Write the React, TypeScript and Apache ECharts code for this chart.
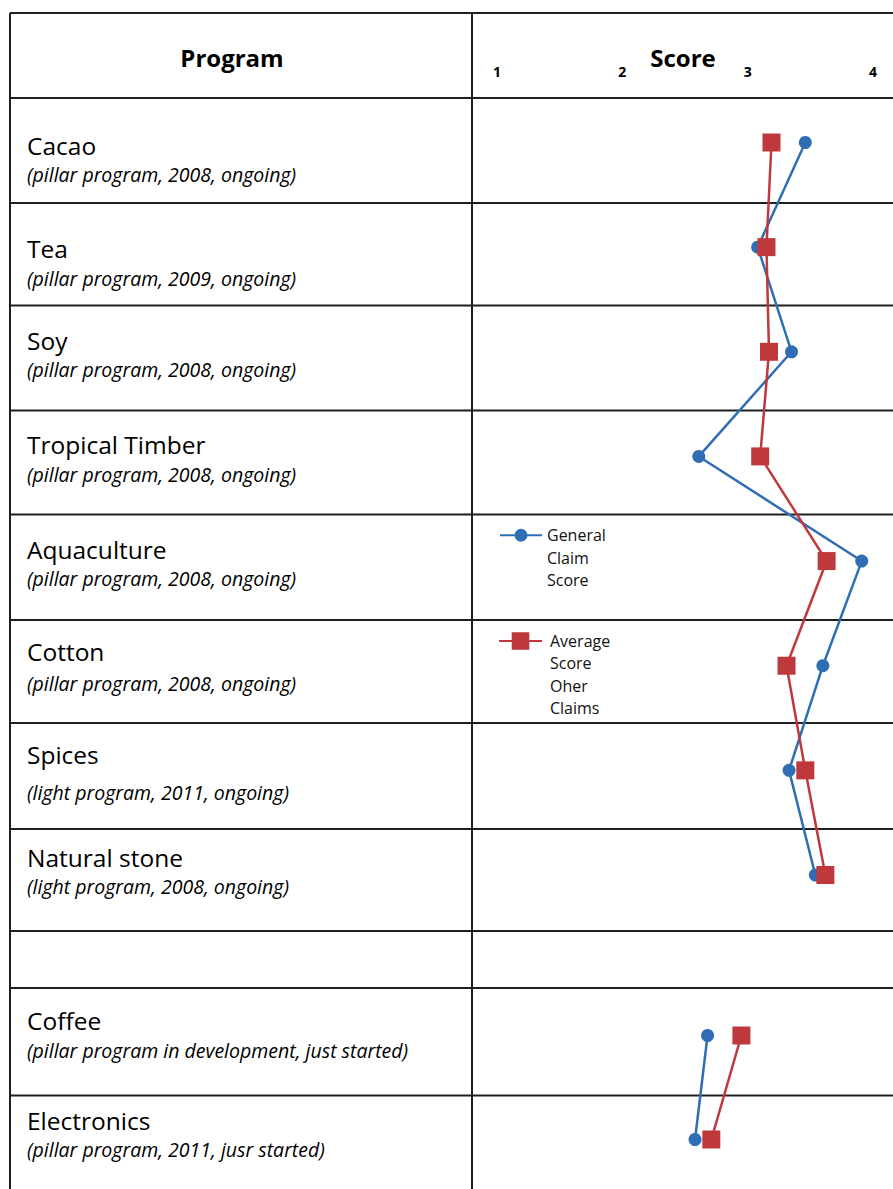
import React, { useEffect, useRef } from "react";
import * as echarts from "echarts";

// ---- data ----
const programs = [
  "Cacao",
  "Tea",
  "Soy",
  "Tropical Timber",
  "Aquaculture",
  "Cotton",
  "Spices",
  "Natural stone",
  "Coffee",
  "Electronics",
];
const programDetails = [
  "(pillar program, 2008, ongoing)",
  "(pillar program, 2009, ongoing)",
  "(pillar program, 2008, ongoing)",
  "(pillar program, 2008, ongoing)",
  "(pillar program, 2008, ongoing)",
  "(pillar program, 2008, ongoing)",
  "(light program, 2011, ongoing)",
  "(light program, 2008, ongoing)",
  "(pillar program in development, just started)",
  "(pillar program, 2011, jusr started)",
];
const generalClaimScore = [3.46, 3.08, 3.35, 2.61, 3.91, 3.6, 3.33, 3.54, 2.68, 2.58];
const averageScoreOtherClaims = [3.19, 3.15, 3.17, 3.1, 3.63, 3.31, 3.46, 3.62, 2.95, 2.71];
const scoreMin = 1;
const scoreMax = 4;
const ongoingCount = 8; // first block of programs; the rest follow after an empty row
const seriesNames = ["General Claim Score", "Average Score Oher Claims"];
const headers = ["Program", "Score"];

// ---- layout (not data) ----
const W = 893;
const H = 1189;
const rowLines = [13, 98, 203, 305.5, 410.5, 514.5, 620, 723, 829, 931, 988, 1095.5];
const colLines = [10, 472];
const nameY = [145.5, 248.5, 340.5, 444.5, 549.5, 651.5, 754.5, 857.5, 1020.5, 1120.5];
const detailY = [174, 278, 369, 474, 578, 683, 792, 886, 1050, 1149];
const FONT = "'Open Sans', 'DejaVu Sans', sans-serif";
const BLUE = "#2f6eb5";
const RED = "#bf383b";
const LINE = "#1f1f1f";

// legend text: words stacked, first word level with the icon
const stackLegend = (n: string) => {
  const words = n.split(" ");
  return new Array(words.length - 1).fill("").concat(words).join("\n");
};

export default function App() {
  const ref = useRef<HTMLDivElement>(null);
  useEffect(() => {
    if (!ref.current) return;
    const chart = echarts.init(ref.current, null, { renderer: "svg" });

    const graphics: any[] = [];
    rowLines.forEach((y) =>
      graphics.push({
        type: "line",
        shape: { x1: colLines[0], y1: y, x2: W, y2: y },
        style: { stroke: LINE, lineWidth: 2 },
        z: 1,
      })
    );
    colLines.forEach((x) =>
      graphics.push({
        type: "line",
        shape: { x1: x, y1: rowLines[0], x2: x, y2: H },
        style: { stroke: LINE, lineWidth: 2 },
        z: 1,
      })
    );
    const txt = (text: string, x: number, y: number, font: string, align: string) => ({
      type: "text",
      x,
      y,
      style: {
        text,
        fill: "#000",
        font,
        align,
        verticalAlign: "middle",
        textAlign: align,
        textVerticalAlign: "middle",
      },
    });
    graphics.push(txt(headers[0], 232, 57, `bold 24px ${FONT}`, "center"));
    graphics.push(txt(headers[1], 683, 57, `bold 24px ${FONT}`, "center"));
    programs.forEach((p, i) => {
      graphics.push(txt(p, 27, nameY[i], `24.5px ${FONT}`, "left"));
      graphics.push(txt(programDetails[i], 27, detailY[i], `italic 19.5px ${FONT}`, "left"));
    });

    const group1 = programs.slice(0, ongoingCount);
    const group2 = programs.slice(ongoingCount);

    const mkSeries = (name: string, data: number[], cats: string[], gi: number, color: string, symbol: string, size: number, z: number) => ({
      type: "line",
      name,
      xAxisIndex: gi,
      yAxisIndex: gi,
      data: data.map((v, i) => [v, cats[i]]),
      symbol,
      symbolSize: size,
      showSymbol: true,
      lineStyle: { color, width: 2.5 },
      itemStyle: { color },
      z,
    });

    const option: any = {
      animation: false,
      backgroundColor: "#fff",
      textStyle: { fontFamily: FONT },
      legend: [
        {
          data: [seriesNames[0]],
          left: 499,
          top: 479,
          padding: 0,
          itemWidth: 42,
          itemHeight: 16,
          selectedMode: false,
          formatter: stackLegend,
          textStyle: { fontSize: 16, lineHeight: 22.5, color: "#111" },
        },
        {
          data: [seriesNames[1]],
          left: 498,
          top: 563,
          padding: 0,
          itemWidth: 43,
          itemHeight: 22,
          selectedMode: false,
          formatter: stackLegend,
          textStyle: { fontSize: 16, lineHeight: 22.3, color: "#111", padding: [0, 0, 0, 3] },
        },
      ],
      grid: [
        { left: 497, right: W - 873, top: 142.5, height: 732.5 },
        { left: 497, right: W - 873, top: 1035.5, height: 104 },
      ],
      xAxis: [
        {
          type: "value",
          gridIndex: 0,
          min: scoreMin,
          max: scoreMax,
          interval: 1,
          position: "top",
          axisLine: { show: false },
          axisTick: { show: false },
          splitLine: { show: false },
          axisLabel: { fontSize: 14, fontWeight: "bold", color: "#000", margin: 64 },
        },
        {
          type: "value",
          gridIndex: 1,
          min: scoreMin,
          max: scoreMax,
          interval: 1,
          show: false,
          splitLine: { show: false },
        },
      ],
      yAxis: [
        { type: "category", gridIndex: 0, data: group1, inverse: true, boundaryGap: false, show: false },
        { type: "category", gridIndex: 1, data: group2, inverse: true, boundaryGap: false, show: false },
      ],
      series: [
        mkSeries(seriesNames[0], generalClaimScore.slice(0, ongoingCount), group1, 0, BLUE, "circle", 13, 3),
        mkSeries(seriesNames[1], averageScoreOtherClaims.slice(0, ongoingCount), group1, 0, RED, "rect", 18, 4),
        mkSeries(seriesNames[0], generalClaimScore.slice(ongoingCount), group2, 1, BLUE, "circle", 13, 3),
        mkSeries(seriesNames[1], averageScoreOtherClaims.slice(ongoingCount), group2, 1, RED, "rect", 18, 4),
      ],
      graphic: graphics,
    };
    chart.setOption(option);
    return () => chart.dispose();
  }, []);
  return <div ref={ref} style={{ position: "absolute", left: 0, top: 0, width: W, height: H }} />;
}
